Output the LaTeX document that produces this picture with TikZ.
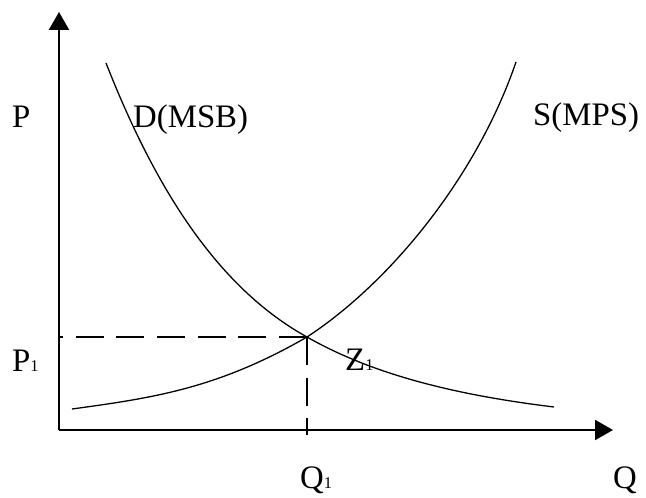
\documentclass[tikz,border=0pt]{standalone}
\usepackage{fontspec}
\setmainfont{Liberation Serif}
\usepackage{tikz}
\usetikzlibrary{arrows.meta, positioning}

\newcommand{\subidx}[1]{{\fontsize{14}{14}\selectfont #1}}

\begin{document}
\begin{tikzpicture}[x=0.03cm,y=0.03cm,
		font=\fontsize{28}{30}\selectfont]

	\tikzset{
		axis/.style={
				line width=1.7pt, -{Triangle[length=0.54cm,width=0.6cm]}
			},
		curve/.style={
				line width=1.1pt
			},
		guide/.style={
				line width=2pt, dash pattern=on 0.84cm off 0.38cm
			},
		lbl/.style={
				inner sep=0pt, anchor=base west
			},
	}
	\useasboundingbox (0,0) rectangle (646,497);

	\coordinate (O) at (59,67);
	\coordinate (ytop) at (59,485);
	\coordinate (xend) at (613,67);
	\coordinate (Z) at (307,160);
	\coordinate (q1) at (307,62);
	\coordinate (dtop) at (106,434);
	\coordinate (dend) at (554,90);
	\coordinate (sbot) at (72,88);
	\coordinate (stop) at (516,435);

	\draw[axis] (O) -- (ytop);
	\draw[axis] (O) -- (xend);

	% demand and supply
	\draw[curve] (dtop) .. controls (150,322) and (211,213) .. (Z)
		.. controls (377,120) and (464,101) .. (dend);
	\draw[curve] (sbot) .. controls (152,99) and (217,108) .. (Z)
		.. controls (391,215) and (477,321) .. (stop);

	\draw[guide] (Z) -- (Z -| O);
	\draw[guide] (Z) -- (q1);

	\node[lbl] (p) at (12,369) {P};
	\node[lbl] (dmsb) at (133,369) {D(MSB)};
	\node[lbl] (smps) at (533,371) {S(MPS)};
	\node[lbl] (p1) at (12,126) {P\subidx{1}};
	\node[lbl] (z1) at (345,127) {Z\subidx{1}};
	\node[lbl] (q1lbl) at (300,9) {Q\subidx{1}};
	\node[lbl] (q) at (613,9) {Q};

\end{tikzpicture}
\end{document}
